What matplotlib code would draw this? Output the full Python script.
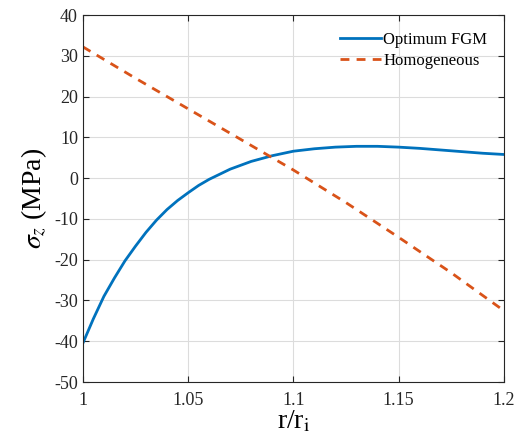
import matplotlib
matplotlib.use("Agg")
import matplotlib.pyplot as plt

plt.rcParams['font.family'] = ['Liberation Serif', 'DejaVu Serif']
plt.rcParams['mathtext.fontset'] = 'stix'
plt.rcParams['axes.unicode_minus'] = False

r_fgm = [1.0, 1.005, 1.01, 1.015, 1.02, 1.025, 1.03, 1.035, 1.04, 1.045, 1.05, 1.055, 1.06,
         1.07, 1.08, 1.09, 1.10, 1.11, 1.12, 1.13, 1.14, 1.15, 1.16, 1.17, 1.18, 1.19, 1.2]
s_fgm = [-40.5, -34.5, -29.0, -24.5, -20.3, -16.7, -13.3, -10.3, -7.7, -5.5, -3.6, -1.8, -0.3,
         2.2, 4.1, 5.5, 6.6, 7.2, 7.6, 7.8, 7.8, 7.6, 7.3, 6.9, 6.5, 6.1, 5.8]
r_hom = [1.0, 1.025, 1.05, 1.075, 1.1, 1.125, 1.15, 1.175, 1.2]
s_hom = [32.2, 24.5, 17.0, 9.5, 2.0, -6.0, -14.5, -23.2, -32.5]

xticks = [1, 1.05, 1.1, 1.15, 1.2]
xticklabels = ['1', '1.05', '1.1', '1.15', '1.2']
yticks = [-50, -40, -30, -20, -10, 0, 10, 20, 30, 40]

fig = plt.figure(figsize=(5.21, 4.47), dpi=100)
ax = fig.add_axes([0.159, 0.1454, 0.808, 0.821])
ax.plot(r_fgm, s_fgm, color='#0072BD', lw=2, label='Optimum FGM')
ax.plot(r_hom, s_hom, color='#D95319', lw=2, ls=(0, (3.2, 2.6)), label='Homogeneous')
ax.set_xlim(1, 1.2)
ax.set_ylim(-50, 40)
ax.set_xticks(xticks)
ax.set_xticklabels(xticklabels)
ax.set_yticks(yticks)
ax.grid(True, color='#dcdcdc', lw=0.8)
ax.tick_params(direction='in', top=True, right=True, labelsize=13, colors='#262626', length=4)
ax.tick_params(axis='x', pad=7)
for s in ax.spines.values():
    s.set_color('#262626')
    s.set_linewidth(0.8)
ax.set_xlabel(r'r/r$_\mathrm{i}$', fontsize=20, labelpad=0)
ax.set_ylabel(r'$\sigma_z$ (MPa)', fontsize=20, labelpad=4)
ax.legend(loc='upper right', frameon=False, fontsize=12, handlelength=2.5, handletextpad=0.1,
          borderaxespad=0.5, labelspacing=0.3, borderpad=0.5)
fig.savefig('out.png', dpi=100)
